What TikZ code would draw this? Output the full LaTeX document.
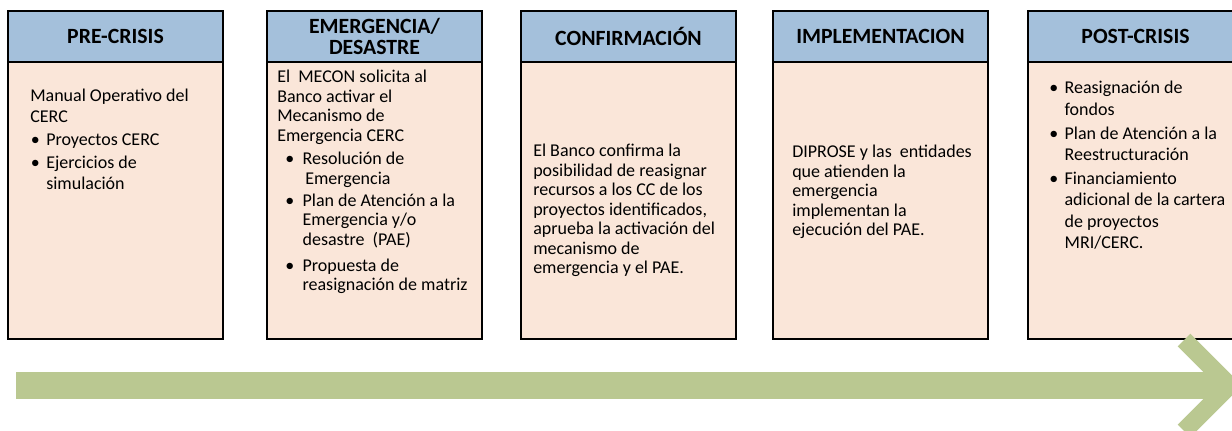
\documentclass[tikz,border=0pt]{standalone}
\usepackage{fontspec}
\setmainfont{Carlito}
\usetikzlibrary{positioning}
\definecolor{hdrblue}{RGB}{164,192,219}
\definecolor{bodypeach}{RGB}{250,230,217}
\definecolor{arrowgreen}{RGB}{186,200,145}
\newcommand{\bul}[2][0pt]{\hspace*{#1}\makebox[#2][l]{\textbullet}}
\newcommand{\cnt}[1]{\hspace*{#1}}

\begin{document}
\begin{tikzpicture}[x=0.75pt,y=-0.75pt,node distance=30pt,
                    hdr/.style={draw=black,line width=1.4pt,fill=hdrblue,minimum width=161.25pt,minimum height=38.25pt,
                                inner sep=0pt,outer sep=0pt,align=center,font=\fontsize{16.3}{16}\selectfont\bfseries},
                    bodybox/.style={draw=black,line width=1.4pt,fill=bodypeach,minimum width=161.25pt,minimum height=207.75pt,
                                inner sep=0pt,outer sep=0pt},
                    txt/.style={anchor=north west,inner sep=0pt,align=left,font=\fontsize{13.5}{14.6}\selectfont}]
\tikzset{shaft/.style={draw=arrowgreen,line width=20.25pt},
         chev/.style={draw=arrowgreen,line width=13.5pt,line join=miter,miter limit=10}}

        \useasboundingbox (0,0) rectangle (1232,431);
        \clip (0,0) rectangle (1232,431);

        \node[hdr,anchor=north west]                (h1)  at (8,11)              {PRE-CRISIS};
        \node[bodybox]                              (b1)  [below=0pt of h1]      {};

        \node[hdr]                                  (h2)  [right=33pt of h1]     {EMERGENCIA/\\DESASTRE};
        \node[bodybox]                              (b2)  [below=0pt of h2]      {};

        \node[hdr]                                  (h3)  [right=29.25pt of h2]  {CONFIRMACIÓN};
        \node[bodybox]                              (b3)  [below=0pt of h3]      {};

        \node[hdr]                                  (h4)  [right=27.75pt of h3]  {IMPLEMENTACION};
        \node[bodybox]                              (b4)  [below=0pt of h4]      {};

        \node[hdr]                                  (h5)  [right=30pt of h4]     {POST-CRISIS};
        \node[bodybox]                              (b5)  [below=0pt of h5]      {};

        \node[txt,font=\fontsize{13.5}{15.4}\selectfont] (t1) at ([shift={(22,27)}]b1.north west)
            {Manual Operativo del\\ CERC\\[2pt]
             \bul[0.5pt]{11.5pt}Proyectos CERC\\[2pt]
             \bul[0.5pt]{11.5pt}Ejercicios de\\ \cnt{12pt}simulación};

        \node[txt] (t2) at ([shift={(10,8)}]b2.north west)
            {El\ \ MECON solicita al\\ Banco activar el\\ Mecanismo de\\ Emergencia CERC\\[3pt]
             \bul[6pt]{13pt}Resolución de\\ \cnt{21pt}Emergencia\\[2pt]
             \bul[6pt]{13pt}Plan de Atención a la\\ \cnt{19pt}Emergencia y/o\\ \cnt{19pt}desastre\ \ (PAE)\\[5pt]
             \bul[6pt]{13pt}Propuesta de\\ \cnt{19pt}reasignación de matriz};

        \node[txt] (t3) at ([shift={(12,82)}]b3.north west)
            {El Banco confirma la\\ posibilidad de reasignar\\ recursos a los CC de los\\ proyectos identificados,\\
             aprueba la activación del\\ mecanismo de\\ emergencia y el PAE.};

        \node[txt] (t4) at ([shift={(19,83)}]b4.north west)
            {DIPROSE y las\ \ entidades\\ que atienden la\\ emergencia\\ implementan la\\ ejecución del PAE.};

        \node[txt,font=\fontsize{13.5}{16}\selectfont] (t5) at ([shift={(21,19)}]b5.north west)
            {\bul{11.5pt}Reasignación de\\ \cnt{11.5pt}fondos\\[2pt]
             \bul{11.5pt}Plan de Atención a la\\ \cnt{11.5pt}Reestructuración\\[2pt]
             \bul{11.5pt}Financiamiento\\ \cnt{11.5pt}adicional de la cartera\\ \cnt{11.5pt}de proyectos\\ \cnt{11.5pt}MRI/CERC.};

        % timeline arrow
        \coordinate (a0)  at (16,385.5);
        \coordinate (a1)  at (1225,385.5);
        \coordinate (tip) at (1229.5,385.5);
        \draw[shaft] (a0) -- (a1);
        \draw[chev] ([shift={(-45.5,-45.5)}]tip) -- (tip) -- ([shift={(-45.5,45.5)}]tip);

\end{tikzpicture}
\end{document}
